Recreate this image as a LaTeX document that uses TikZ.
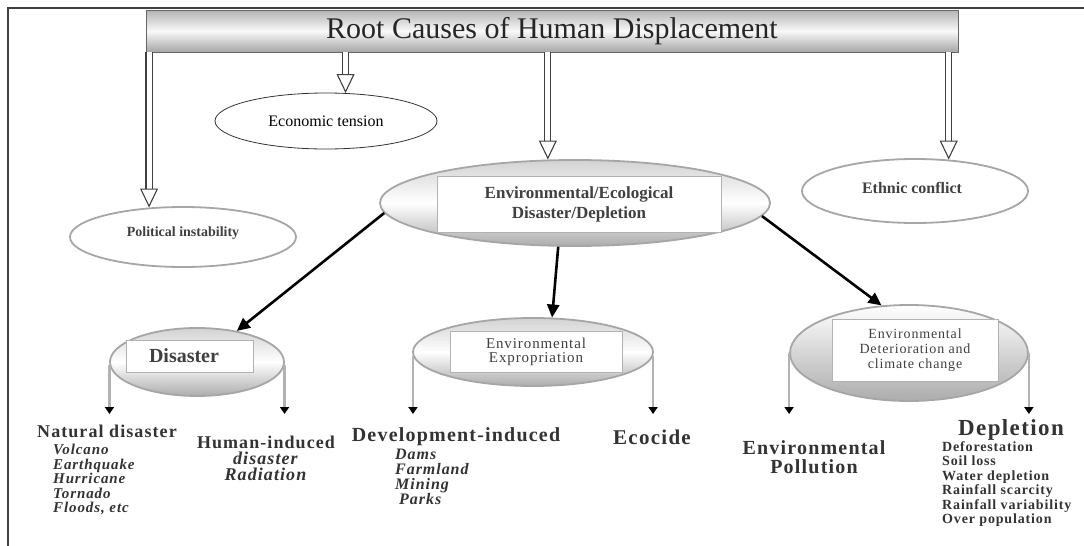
\documentclass[tikz,border=0pt]{standalone}
\usepackage{fontspec}
\setmainfont{Liberation Serif}
\newfontfamily\spaced[LetterSpace=6]{Liberation Serif}
\usetikzlibrary{shapes.geometric,arrows.meta}

\tikzset{
  plainell/.style={ellipse, draw=black!80, line width=0.8pt, fill=white, inner sep=0pt},
  greyell/.style={ellipse, draw=gray!70, line width=1.8pt, fill=white, inner sep=0pt},
  shadeell/.style={ellipse, draw=gray!70, line width=1.8pt, top color=gray!35, bottom color=gray!65, middle color=white, inner sep=0pt},
  inbox/.style={rectangle, draw=gray!60, line width=0.7pt, fill=white, align=center, text=black!75},
  hollow/.style={draw=black!75, line width=1.1pt, double=white, double distance=5pt, -{Triangle[open, length=19pt, width=18pt]}},
  bigarr/.style={line width=2.6pt, -{Triangle[length=13pt, width=12pt]}},
  drop/.style={draw=gray!60, line width=2.2pt, -{Triangle[length=7pt, width=9pt, black]}},
  head/.style={inner sep=0pt, text=black!80, font=\bfseries\spaced\fontsize{18}{18}\selectfont},
  items/.style={inner sep=0pt, text=black!80, align=left, font=\bfseries\itshape\spaced\fontsize{15}{14.5}\selectfont}
}

\begin{document}
\begin{tikzpicture}[x=1pt, y=-1pt]
\useasboundingbox (0,0) rectangle (1084,546);

% frame
\draw[line width=1.4pt, black!75] (8,546) -- (8,8) -- (1084,8);

% title bar
\node[draw=black!60, line width=0.8pt, minimum width=812pt, minimum height=42pt,
      top color=gray!60, bottom color=gray!70, middle color=gray!5,
      text=black!85, font=\fontsize{30}{30}\selectfont] (title) at (552,31) {Root Causes of Human Displacement};

% first level
\node[greyell, minimum width=226pt, minimum height=60pt] (pol) at (183,237) {};
\node[text=black!75, font=\bfseries\fontsize{14}{14}\selectfont] (poltxt) at (183,233) {Political instability};

\node[plainell, minimum width=222pt, minimum height=56pt, font=\fontsize{16}{16}\selectfont] (econ) at (326,121) {Economic tension};

\node[shadeell, minimum width=390pt, minimum height=86pt] (env) at (575,203) {};
\node[inbox, minimum width=284pt, minimum height=56pt, font=\bfseries\fontsize{17}{20}\selectfont] (envtxt) at (579,204) {Environmental/Ecological\\Disaster/Depletion};

\node[greyell, minimum width=226pt, minimum height=64pt] (eth) at (915,191) {};
\node[text=black!75, font=\bfseries\fontsize{16}{16}\selectfont] (ethtxt) at (912,188) {Ethnic conflict};

\draw[hollow] (title.south -| pol.139) -- (pol.139);
\draw[hollow] (title.south -| econ.55) -- (econ.55);
\draw[hollow] (title.south -| env.122) -- (env.122);
\draw[hollow] (title.south -| eth.43) -- (eth.43);

% second level
\node[shadeell, minimum width=174pt, minimum height=68pt] (dis) at (197,362) {};
\node[inbox, minimum width=127pt, minimum height=32pt, font=\bfseries\fontsize{20}{20}\selectfont] (distxt) at (190,356) {Disaster\hspace{12pt}};

\node[shadeell, minimum width=240pt, minimum height=68pt] (exp) at (533,352) {};
\node[inbox, minimum width=172pt, minimum height=41pt, font=\spaced\fontsize{15}{14.5}\selectfont] (exptxt) at (536,352) {Environmental\\Expropriation};

\node[shadeell, top color=white, minimum width=238pt, minimum height=96pt] (det) at (909,353) {};
\node[inbox, minimum width=166pt, minimum height=62pt, font=\spaced\fontsize{14}{15}\selectfont] (dettxt) at (915,350) {Environmental\\Deterioration and\\climate change};

\draw[bigarr] (env.183) -- (dis.38);
\draw[bigarr] (env.249) -- (exp.61);
\draw[bigarr] (env.356) -- (det.120);

% bottom texts
\coordinate (foot) at (0,414);
\draw[drop] (dis.182) -- (dis.182 |- foot);
\draw[drop] (dis.358) -- (dis.358 |- foot);
\draw[drop] (exp.182) -- (exp.182 |- foot);
\draw[drop] (exp.358) -- (exp.358 |- foot);
\draw[drop] (det.180) -- (det.180 |- foot);
\draw[drop] (det.0) -- (det.0 |- foot);

\node[head] (nat) at (107,431) {Natural disaster};
\node[items, anchor=north west] (natlist) at (53,444) {Volcano\\Earthquake\\Hurricane\\Tornado\\Floods, etc};

\node[head, align=center, font=\bfseries\spaced\fontsize{18}{16}\selectfont] (hum) at (266,458) {Human-induced\\\textit{disaster}\\\textit{Radiation}};

\node[head, font=\bfseries\spaced\fontsize{20}{20}\selectfont] (dev) at (456,437) {Development-induced};
\node[items, anchor=north west, font=\bfseries\itshape\spaced\fontsize{16}{15}\selectfont] (devlist) at (395,449) {Dams\\Farmland\\Mining\\\hspace{4pt}Parks};

\node[head, font=\bfseries\spaced\fontsize{21}{21}\selectfont] (eco) at (652,437) {Ecocide};

\node[head, align=center, font=\bfseries\spaced\fontsize{20}{19}\selectfont] (poll) at (814,457) {Environmental\\Pollution};

\node[head, font=\bfseries\spaced\fontsize{23}{23}\selectfont] (depl) at (1011,430) {Depletion};
\node[items, anchor=north west, font=\bfseries\spaced\fontsize{14}{14.5}\selectfont] (depllist) at (942,441) {Deforestation\\Soil loss\\Water depletion\\Rainfall scarcity\\Rainfall variability\\Over population};
\end{tikzpicture}
\end{document}
